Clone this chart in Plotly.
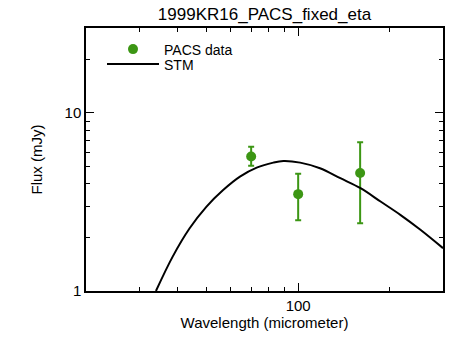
import plotly.graph_objects as go

# PACS photometry (micrometer, mJy)
pacs_wave = [70, 100, 160]
pacs_flux = [5.7, 3.5, 4.6]
pacs_err_plus = [0.75, 1.05, 2.25]
pacs_err_minus = [0.65, 1.0, 2.2]

# STM model curve
stm_wave = [34.0, 38.6, 43.9, 49.9, 56.6, 64.3, 73.0, 82.8, 89.4, 101.5,
            118.0, 137.7, 160.5, 186.8, 217.6, 253.4, 300.0]
stm_flux = [1.0, 1.56, 2.25, 2.98, 3.69, 4.39, 4.93, 5.26, 5.37, 5.26,
            4.89, 4.30, 3.78, 3.18, 2.67, 2.20, 1.74]

x_minor = [30, 40, 50, 60, 70, 80, 90, 200]
y_minor = [2, 3, 4, 5, 6, 7, 8, 9, 20]

W, H = 469, 346
L, R, T, B = 86, 443, 28, 291  # plot box in pixels
FONT = "Liberation Sans"
green = "#3c9614"

fig = go.Figure()

fig.add_trace(go.Scatter(
    x=pacs_wave, y=pacs_flux, mode='markers', name='PACS data',
    marker=dict(color=green, size=10),
    error_y=dict(type='data', array=pacs_err_plus, arrayminus=pacs_err_minus,
                 color=green, thickness=2, width=3),
    legend='legend',
))
fig.add_trace(go.Scatter(
    x=stm_wave, y=stm_flux, mode='lines', name='STM',
    line=dict(color='black', width=2, shape='spline'),
    legend='legend2',
))

axis_common = dict(
    type='log', showgrid=False, zeroline=False,
    showline=True, linecolor='black', linewidth=1.5, mirror='ticks',
    ticks='inside', ticklen=8, tickwidth=1, tickcolor='black',
    tickfont=dict(family=FONT, size=15, color='black'),
)

fig.update_xaxes(
    **axis_common,
    range=[1.30103, 2.4771],
    tickvals=[100], ticktext=['100'],
    minor=dict(tickvals=x_minor, ticks='inside', ticklen=4, tickcolor='black', showgrid=False),
    title=dict(text='Wavelength (micrometer)', font=dict(family=FONT, size=15, color='black'), standoff=4),
)
fig.update_yaxes(
    **axis_common,
    range=[0, 1.4771],
    tickvals=[1, 10], ticktext=['1', '10'],
    minor=dict(tickvals=y_minor, ticks='inside', ticklen=4, tickcolor='black', showgrid=False),
    title=dict(text='Flux (mJy)', font=dict(family=FONT, size=15, color='black'), standoff=18),
)


def px_x(px):
    return (px - L) / (R - L)


def px_y(py):
    return (B - py) / (B - T)


leg = dict(xanchor='left', yanchor='middle',
           bgcolor='rgba(0,0,0,0)', borderwidth=0,
           font=dict(family=FONT, size=14, color='black'), itemwidth=52)

fig.update_layout(
    width=W, height=H,
    margin=dict(l=L, r=W - R, t=T, b=H - B),
    paper_bgcolor='white', plot_bgcolor='white',
    title=dict(text='1999KR16_PACS_fixed_eta', x=(L + R) / 2 / W, xanchor='center',
               y=1 - 14 / H, yanchor='middle',
               font=dict(family=FONT, size=17, color='black')),
    showlegend=True,
    legend=dict(leg, x=px_x(102), y=px_y(49.5)),
    legend2=dict(leg, x=px_x(102), y=px_y(64.5)),
)

# drop the default page margin so the figure sits at the window's corner
fig.write_html("out.html", config={'displayModeBar': False},
               post_script="document.body.style.margin='0';")
